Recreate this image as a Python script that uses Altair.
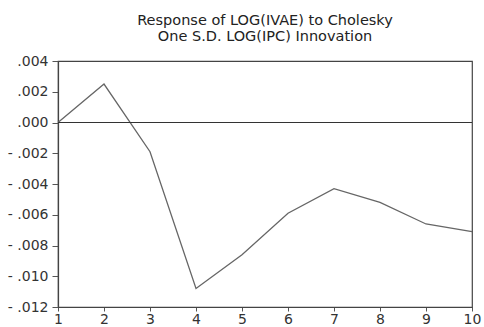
import altair as alt
import pandas as pd

periods = [1, 2, 3, 4, 5, 6, 7, 8, 9, 10]
response = [0.0000, 0.0025, -0.0019, -0.0108, -0.0086, -0.0059, -0.0043, -0.0052, -0.0066, -0.0071]
y_ticks = [-0.012, -0.010, -0.008, -0.006, -0.004, -0.002, 0.000, 0.002, 0.004]
title_lines = ["Response of LOG(IVAE) to Cholesky", "One S.D. LOG(IPC) Innovation"]

df = pd.DataFrame({"period": periods, "response": response})
zero = pd.DataFrame({"y": [0.0]})

font = "DejaVu Sans"

x_axis = alt.Axis(values=periods, format="d", title=None, grid=False, labelFont=font,
                  labelFontSize=14, labelColor="#333", domainColor="#444", tickColor="#555",
                  tickSize=4, labelPadding=1, domainWidth=1.2, labelFlush=False,
                  labelOverlap=False)
y_axis = alt.Axis(values=y_ticks, title=None, grid=False, labelFont=font, labelFontSize=14,
                  labelColor="#333", domainColor="#444", tickColor="#555", tickSize=6,
                  labelPadding=4, domainWidth=1.2, labelOverlap=False, labelBound=False,
                  labelExpr="abs(datum.value) < 0.0001 ? '.000' : (datum.value < 0 ? '- ' : '') + replace(format(abs(datum.value), '.3f'), '0.', '.')")

y_scale = alt.Scale(domain=[-0.012, 0.004], nice=False)

line = alt.Chart(df).mark_line(color="#666", strokeWidth=1.3).encode(
    x=alt.X("period:Q", scale=alt.Scale(domain=[1, 10], nice=False, zero=False), axis=x_axis),
    y=alt.Y("response:Q", scale=y_scale, axis=y_axis),
)

rule = alt.Chart(zero).mark_rule(color="#333", strokeWidth=1).encode(
    y=alt.Y("y:Q", scale=y_scale, axis=y_axis)
)

chart = alt.layer(line, rule).properties(
    width=414,
    height=246,
    autosize=alt.AutoSizeParams(type="none"),
    padding={"left": 58, "top": 61, "right": 12, "bottom": 20},
    title=alt.TitleParams(text=title_lines, font=font, fontSize=14.5, fontWeight="normal",
                          color="#222", anchor="middle", offset=10, lineHeight=15.5),
    background="white",
).configure_view(stroke="#444", strokeWidth=1.2)

chart.save("out.html", embed_options={"renderer": "svg", "actions": False})
